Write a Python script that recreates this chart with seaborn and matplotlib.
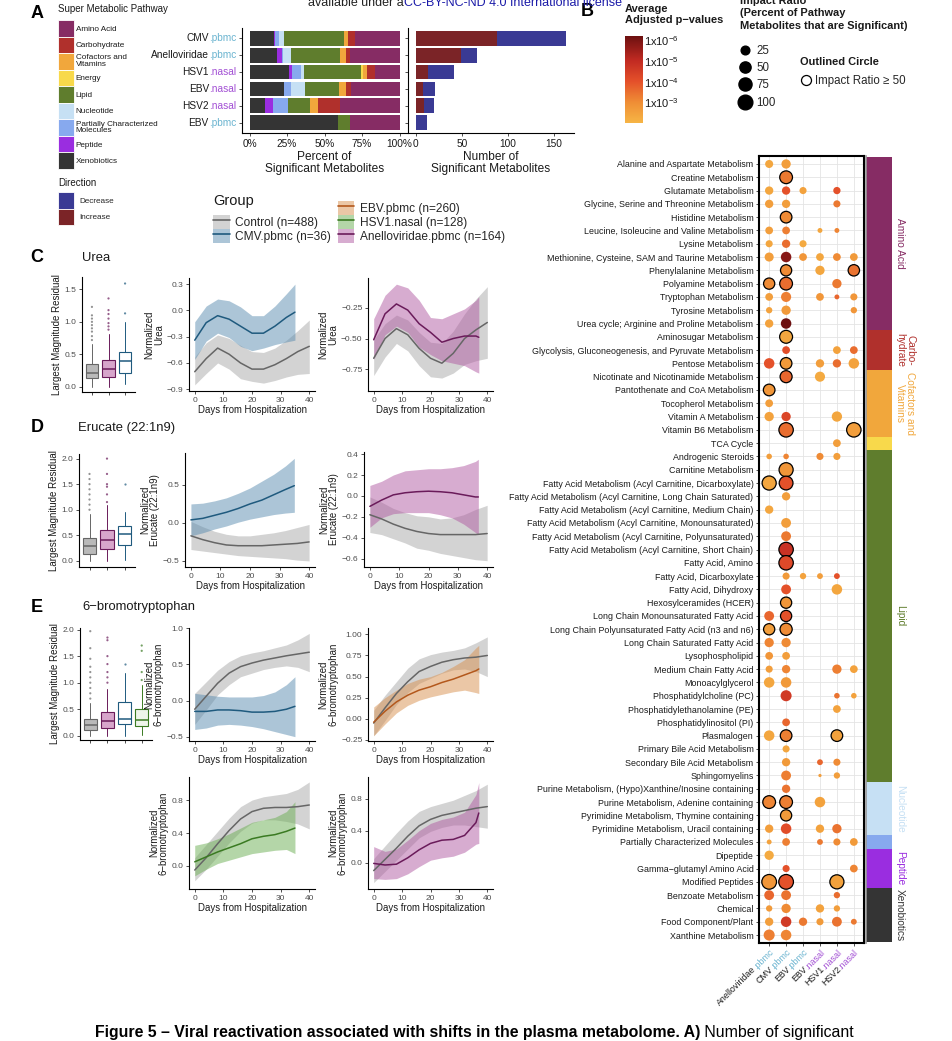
import numpy as np
import pandas as pd
import seaborn as sns
import matplotlib
matplotlib.use("Agg")
import matplotlib.pyplot as plt
import matplotlib.transforms as mtransforms
from matplotlib.colors import LinearSegmentedColormap, Normalize
from matplotlib.cm import ScalarMappable
from matplotlib.patches import Patch
from matplotlib.lines import Line2D

sns.set_style("white")
plt.rcParams["font.family"] = ["Liberation Sans", "DejaVu Sans"]
plt.rcParams["mathtext.fontset"] = "custom"
plt.rcParams["mathtext.rm"] = "Liberation Sans"
plt.rcParams["mathtext.bf"] = "Liberation Sans:bold"

# ---------------- data: panel A ----------------
row_virus = ["CMV", "Anelloviridae", "HSV1", "EBV", "HSV2", "EBV"]
row_tissue = ["pbmc", "pbmc", "nasal", "nasal", "nasal", "pbmc"]

pct_xenobiotics = [16.0, 18.2, 26.5, 22.9, 10.1, 58.7]
pct_peptide = [1.2, 3.4, 2.0, 0.0, 5.4, 0.0]
pct_partial = [2.5, 1.0, 5.9, 4.6, 10.1, 0.0]
pct_nucleotide = [3.2, 5.2, 1.7, 9.4, 0.0, 0.0]
pct_lipid = [40.0, 32.2, 37.9, 22.8, 14.4, 8.1]
pct_energy = [0.0, 0.0, 1.7, 0.0, 0.0, 0.0]
pct_cofactors = [2.5, 4.1, 2.7, 4.4, 5.5, 0.0]
pct_carbohydrate = [4.9, 3.2, 5.1, 3.7, 14.5, 0.0]
pct_amino = [29.7, 32.7, 16.5, 32.2, 40.0, 33.2]

n_increase = [88, 49, 13, 8, 9, 1]
n_decrease = [75, 18, 29, 13, 11, 11]

super_labels = ["Amino Acid", "Carbohydrate", "Cofactors and\nVitamins", "Energy", "Lipid",
                "Nucleotide", "Partially Characterized\nMolecules", "Peptide", "Xenobiotics"]
super_colors = ["#862c64", "#b0302c", "#f1a73c", "#f8d94b", "#5f7d2d",
                "#c6e0f4", "#87a9ee", "#9a2de0", "#343434"]
super_counts = [13, 3, 5, 1, 25, 4, 1, 3, 4]
side_labels = ["Amino Acid", "Carbo-\nhydrate", "Cofactors and\nVitamins", "", "Lipid",
               "Nucleotide", "", "Peptide", "Xenobiotics"]

# ---------------- data: panel B ----------------
pathways = [
    "Alanine and Aspartate Metabolism", "Creatine Metabolism", "Glutamate Metabolism",
    "Glycine, Serine and Threonine Metabolism", "Histidine Metabolism",
    "Leucine, Isoleucine and Valine Metabolism", "Lysine Metabolism",
    "Methionine, Cysteine, SAM and Taurine Metabolism", "Phenylalanine Metabolism",
    "Polyamine Metabolism", "Tryptophan Metabolism", "Tyrosine Metabolism",
    "Urea cycle; Arginine and Proline Metabolism", "Aminosugar Metabolism",
    "Glycolysis, Gluconeogenesis, and Pyruvate Metabolism", "Pentose Metabolism",
    "Nicotinate and Nicotinamide Metabolism", "Pantothenate and CoA Metabolism",
    "Tocopherol Metabolism", "Vitamin A Metabolism", "Vitamin B6 Metabolism", "TCA Cycle",
    "Androgenic Steroids", "Carnitine Metabolism",
    "Fatty Acid Metabolism (Acyl Carnitine, Dicarboxylate)",
    "Fatty Acid Metabolism (Acyl Carnitine, Long Chain Saturated)",
    "Fatty Acid Metabolism (Acyl Carnitine, Medium Chain)",
    "Fatty Acid Metabolism (Acyl Carnitine, Monounsaturated)",
    "Fatty Acid Metabolism (Acyl Carnitine, Polyunsaturated)",
    "Fatty Acid Metabolism (Acyl Carnitine, Short Chain)",
    "Fatty Acid, Amino", "Fatty Acid, Dicarboxylate", "Fatty Acid, Dihydroxy",
    "Hexosylceramides (HCER)", "Long Chain Monounsaturated Fatty Acid",
    "Long Chain Polyunsaturated Fatty Acid (n3 and n6)", "Long Chain Saturated Fatty Acid",
    "Lysophospholipid", "Medium Chain Fatty Acid", "Monoacylglycerol",
    "Phosphatidylcholine (PC)", "Phosphatidylethanolamine (PE)", "Phosphatidylinositol (PI)",
    "Plasmalogen", "Primary Bile Acid Metabolism", "Secondary Bile Acid Metabolism",
    "Sphingomyelins", "Purine Metabolism, (Hypo)Xanthine/Inosine containing",
    "Purine Metabolism, Adenine containing", "Pyrimidine Metabolism, Thymine containing",
    "Pyrimidine Metabolism, Uracil containing", "Partially Characterized Molecules",
    "Dipeptide", "Gamma\u2212glutamyl Amino Acid", "Modified Peptides", "Benzoate Metabolism",
    "Chemical", "Food Component/Plant", "Xanthine Metabolism"]

dot_virus = ["Anelloviridae", "CMV", "EBV", "EBV", "HSV1", "HSV2"]
dot_tissue = ["pbmc", "pbmc", "pbmc", "nasal", "nasal", "nasal"]

# row index, impact ratio (%), -log10 average adjusted p
anello_rows = [0, 2, 3, 5, 6, 7, 9, 10, 11, 12, 15, 17, 18, 19, 22, 24, 26, 34, 35, 36, 37, 38, 39,
               43, 48, 50, 51, 52, 54, 55, 56, 57, 58]
anello_impact = [20, 22, 22, 18, 14, 28, 50, 18, 10, 22, 42, 55, 18, 30, 7, 90, 22, 35, 50, 30, 18,
                 14, 42, 42, 70, 22, 5, 30, 100, 35, 10, 22, 48]
anello_logp = [2.4, 2.4, 2.6, 2.6, 2.4, 2.6, 3.05, 2.6, 2.5, 2.5, 4.0, 2.8, 2.6, 2.5, 2.6, 2.4, 2.4,
               3.65, 2.6, 3.15, 2.8, 2.6, 2.4, 2.4, 3.15, 2.6, 2.5, 2.3, 2.8, 3.65, 2.7, 2.6, 3.25]

cmv_rows = [0, 1, 2, 3, 4, 5, 6, 7, 8, 9, 10, 11, 12, 13, 14, 15, 16, 19, 20, 22, 23, 24, 25, 27,
            28, 29, 30, 31, 32, 33, 34, 35, 36, 37, 38, 39, 40, 42, 43, 44, 45, 46, 47, 48, 49, 50,
            51, 53, 54, 55, 56, 57, 58]
cmv_impact = [30, 70, 22, 22, 55, 18, 22, 42, 50, 70, 38, 30, 42, 72, 18, 55, 60, 30, 95, 7, 90, 85,
              22, 35, 35, 95, 95, 14, 35, 50, 50, 62, 30, 18, 22, 42, 48, 18, 55, 14, 22, 35, 22, 70,
              50, 42, 18, 14, 100, 35, 30, 42, 42]
cmv_logp = [2.6, 3.35, 4.0, 2.6, 3.05, 3.25, 3.55, 5.8, 3.05, 3.55, 3.25, 2.7, 6.2, 2.4, 4.1, 2.7,
            3.65, 4.3, 3.55, 3.15, 2.8, 4.0, 2.6, 2.6, 3.35, 4.8, 4.2, 2.7, 4.0, 2.8, 4.0, 3.05, 3.05,
            2.6, 3.15, 2.7, 4.6, 3.65, 3.25, 2.4, 2.7, 3.25, 3.45, 3.25, 2.7, 4.1, 3.25, 4.0, 4.0,
            3.45, 3.05, 4.6, 3.15]

ebvp_rows = [2, 6, 7, 31, 57]
ebvp_impact = [14, 14, 18, 10, 22]
ebvp_logp = [2.5, 2.3, 2.8, 2.5, 3.35]

ebvn_rows = [5, 7, 8, 10, 15, 16, 22, 31, 45, 46, 48, 50, 51, 56, 57]
ebvn_impact = [5, 18, 30, 18, 22, 38, 14, 8, 8, 3, 42, 22, 8, 22, 14]
ebvn_logp = [2.4, 2.4, 2.4, 2.8, 2.6, 2.3, 3.05, 2.6, 3.65, 2.6, 2.5, 2.5, 3.35, 2.5, 2.7]

hsv1_rows = [2, 3, 5, 7, 9, 10, 14, 15, 19, 21, 22, 31, 32, 38, 40, 41, 43, 45, 46, 50, 51, 54, 55,
             56, 57]
hsv1_impact = [15, 14, 5, 18, 30, 5, 18, 22, 40, 18, 14, 8, 42, 30, 7, 18, 55, 14, 10, 30, 14, 90,
               10, 10, 35]
hsv1_logp = [4.0, 3.35, 3.15, 3.05, 3.35, 3.65, 2.5, 3.55, 2.4, 2.6, 2.6, 4.0, 2.4, 3.25, 3.45, 2.5,
             2.5, 3.05, 2.6, 3.45, 3.05, 2.5, 3.55, 2.6, 3.45]

hsv2_rows = [7, 8, 10, 11, 14, 15, 20, 38, 40, 51, 53, 57]
hsv2_impact = [18, 52, 14, 10, 18, 42, 95, 18, 7, 18, 18, 8]
hsv2_logp = [2.7, 3.45, 2.8, 2.8, 3.55, 2.5, 2.6, 2.5, 2.5, 2.7, 3.15, 3.35]

size_breaks = [25, 50, 75, 100]
p_breaks = [3, 4, 5, 6]

# ---------------- data: panels C-E ----------------
days40 = [0, 4, 8, 12, 16, 20, 24, 28, 32, 36, 40]
days35 = [0, 4, 8, 12, 16, 20, 24, 28, 32, 35]
days37 = [0, 4, 8, 12, 16, 20, 24, 28, 32, 36, 37]

box_groups_3 = ["Control", "Anelloviridae.pbmc", "CMV.pbmc"]
box_groups_4 = ["Control", "Anelloviridae.pbmc", "CMV.pbmc", "HSV1.nasal"]

# Urea
urea_q1 = [0.14, 0.15, 0.22]
urea_med = [0.22, 0.27, 0.40]
urea_q3 = [0.35, 0.42, 0.54]
urea_wlo = [0.0, 0.0, 0.05]
urea_whi = [0.66, 0.82, 1.00]
urea_out_ctrl = [0.72, 0.78, 0.85, 0.9, 0.95, 1.0, 1.05, 1.1, 1.23]
urea_out_anello = [0.88, 0.93, 0.98, 1.05, 1.12, 1.18, 1.36]
urea_out_cmv = [1.13, 1.59]

urea_ctrl1 = [-0.70, -0.55, -0.43, -0.50, -0.60, -0.67, -0.67, -0.62, -0.55, -0.47, -0.41]
urea_ctrl1_lo = [-0.85, -0.72, -0.60, -0.67, -0.78, -0.81, -0.83, -0.80, -0.76, -0.73, -0.72]
urea_ctrl1_hi = [-0.53, -0.37, -0.28, -0.32, -0.40, -0.47, -0.48, -0.43, -0.34, -0.23, -0.11]
urea_cmv = [-0.34, -0.14, -0.06, -0.10, -0.18, -0.26, -0.26, -0.18, -0.08, -0.02]
urea_cmv_lo = [-0.56, -0.35, -0.26, -0.31, -0.41, -0.46, -0.43, -0.39, -0.36, -0.34]
urea_cmv_hi = [-0.13, 0.05, 0.13, 0.11, 0.04, -0.06, -0.06, 0.05, 0.19, 0.30]
urea_ctrl2 = [-0.66, -0.50, -0.42, -0.47, -0.58, -0.66, -0.70, -0.62, -0.50, -0.43, -0.37]
urea_ctrl2_lo = [-0.80, -0.65, -0.54, -0.60, -0.72, -0.81, -0.82, -0.78, -0.71, -0.68, -0.66]
urea_ctrl2_hi = [-0.51, -0.38, -0.31, -0.35, -0.45, -0.53, -0.54, -0.44, -0.30, -0.18, -0.08]
urea_anello = [-0.51, -0.30, -0.22, -0.27, -0.38, -0.45, -0.53, -0.50, -0.48, -0.48, -0.49]
urea_anello_lo = [-0.67, -0.47, -0.40, -0.45, -0.57, -0.63, -0.68, -0.70, -0.72, -0.77, -0.78]
urea_anello_hi = [-0.34, -0.15, -0.06, -0.09, -0.19, -0.33, -0.34, -0.30, -0.26, -0.19, -0.16]

# Erucate
eru_q1 = [0.14, 0.24, 0.32]
eru_med = [0.29, 0.41, 0.52]
eru_q3 = [0.45, 0.61, 0.68]
eru_wlo = [0.0, 0.0, 0.02]
eru_whi = [0.92, 1.10, 0.95]
eru_out_ctrl = [1.0, 1.1, 1.2, 1.3, 1.4, 1.5, 1.6, 1.7]
eru_out_anello = [1.15, 1.3, 1.45, 1.5, 1.7, 2.0]
eru_out_cmv = [1.5]

eru_ctrl1 = [-0.17, -0.22, -0.26, -0.29, -0.30, -0.30, -0.30, -0.29, -0.28, -0.27, -0.25]
eru_ctrl1_lo = [-0.35, -0.37, -0.39, -0.41, -0.43, -0.44, -0.45, -0.46, -0.47, -0.49, -0.50]
eru_ctrl1_hi = [0.02, -0.05, -0.11, -0.15, -0.17, -0.17, -0.15, -0.13, -0.10, -0.06, -0.02]
eru_cmv = [0.04, 0.06, 0.10, 0.14, 0.19, 0.25, 0.30, 0.37, 0.44, 0.49]
eru_cmv_lo = [-0.17, -0.13, -0.08, -0.04, 0.01, 0.05, 0.08, 0.11, 0.13, 0.14]
eru_cmv_hi = [0.25, 0.26, 0.29, 0.33, 0.39, 0.46, 0.55, 0.64, 0.75, 0.85]
eru_ctrl2 = [-0.18, -0.22, -0.27, -0.31, -0.34, -0.36, -0.37, -0.37, -0.37, -0.37, -0.36]
eru_ctrl2_lo = [-0.35, -0.37, -0.41, -0.45, -0.50, -0.52, -0.55, -0.57, -0.59, -0.61, -0.62]
eru_ctrl2_hi = [-0.01, -0.06, -0.12, -0.16, -0.19, -0.20, -0.22, -0.21, -0.18, -0.13, -0.09]
eru_anello = [-0.10, -0.04, 0.01, 0.03, 0.04, 0.045, 0.04, 0.03, 0.01, -0.01, -0.01]
eru_anello_lo = [-0.30, -0.21, -0.17, -0.16, -0.16, -0.16, -0.18, -0.21, -0.27, -0.35, -0.37]
eru_anello_hi = [0.10, 0.14, 0.20, 0.24, 0.25, 0.26, 0.26, 0.27, 0.29, 0.33, 0.35]

# 6-bromotryptophan
bro_q1 = [0.11, 0.15, 0.23, 0.19]
bro_med = [0.21, 0.28, 0.31, 0.29]
bro_q3 = [0.31, 0.45, 0.63, 0.51]
bro_wlo = [0.0, 0.0, 0.0, 0.02]
bro_whi = [0.61, 0.89, 1.19, 0.96]
bro_out_ctrl = [0.7, 0.8, 0.9, 1.0, 1.1, 1.2, 1.3, 1.45, 1.65, 1.97]
bro_out_anello = [1.0, 1.1, 1.2, 1.35, 1.5, 1.8, 1.85]
bro_out_cmv = [1.35]
bro_out_hsv1 = [1.05, 1.2, 1.6, 1.7]

bro_ctrl1 = [-0.12, 0.06, 0.24, 0.38, 0.47, 0.52, 0.56, 0.59, 0.62, 0.645, 0.67]
bro_ctrl1_lo = [-0.33, -0.13, 0.08, 0.22, 0.33, 0.38, 0.43, 0.46, 0.48, 0.46, 0.40]
bro_ctrl1_hi = [0.10, 0.26, 0.42, 0.54, 0.62, 0.66, 0.69, 0.73, 0.77, 0.84, 0.93]
bro_cmv = [-0.15, -0.15, -0.13, -0.13, -0.14, -0.16, -0.16, -0.15, -0.12, -0.08]
bro_cmv_lo = [-0.40, -0.38, -0.34, -0.33, -0.34, -0.36, -0.39, -0.43, -0.47, -0.50]
bro_cmv_hi = [0.10, 0.08, 0.06, 0.05, 0.05, 0.05, 0.07, 0.12, 0.22, 0.33]
bro_ctrl2 = [-0.05, 0.13, 0.30, 0.44, 0.56, 0.62, 0.67, 0.70, 0.72, 0.73, 0.75]
bro_ctrl2_lo = [-0.20, -0.02, 0.17, 0.31, 0.42, 0.48, 0.54, 0.58, 0.59, 0.56, 0.50]
bro_ctrl2_hi = [0.10, 0.28, 0.44, 0.60, 0.71, 0.76, 0.79, 0.81, 0.84, 0.90, 0.97]
bro_ebv = [-0.04, 0.09, 0.20, 0.28, 0.34, 0.38, 0.43, 0.47, 0.52, 0.57, 0.59]
bro_ebv_lo = [-0.20, -0.06, 0.07, 0.16, 0.22, 0.26, 0.29, 0.32, 0.34, 0.31, 0.30]
bro_ebv_hi = [0.14, 0.25, 0.34, 0.42, 0.47, 0.50, 0.55, 0.62, 0.70, 0.84, 0.87]
bro_ctrl3 = [-0.05, 0.10, 0.27, 0.43, 0.57, 0.66, 0.70, 0.71, 0.71, 0.72, 0.74]
bro_ctrl3_lo = [-0.18, -0.04, 0.12, 0.28, 0.42, 0.52, 0.56, 0.56, 0.54, 0.51, 0.45]
bro_ctrl3_hi = [0.10, 0.26, 0.42, 0.58, 0.72, 0.80, 0.84, 0.86, 0.88, 0.93, 1.02]
bro_hsv1 = [0.05, 0.11, 0.17, 0.22, 0.27, 0.33, 0.36, 0.38, 0.42, 0.46]
bro_hsv1_lo = [-0.12, -0.04, 0.03, 0.07, 0.11, 0.15, 0.17, 0.19, 0.20, 0.15]
bro_hsv1_hi = [0.25, 0.28, 0.33, 0.39, 0.46, 0.53, 0.56, 0.59, 0.66, 0.78]
bro_ctrl4 = [-0.10, 0.04, 0.18, 0.33, 0.46, 0.54, 0.59, 0.62, 0.65, 0.68, 0.70]
bro_ctrl4_lo = [-0.25, -0.11, 0.03, 0.17, 0.31, 0.39, 0.44, 0.47, 0.47, 0.45, 0.43]
bro_ctrl4_hi = [0.05, 0.21, 0.37, 0.52, 0.64, 0.70, 0.74, 0.78, 0.84, 0.90, 0.98]
bro_anello = [-0.01, -0.03, -0.02, 0.06, 0.16, 0.24, 0.28, 0.29, 0.34, 0.50, 0.62]
bro_anello_lo = [-0.20, -0.21, -0.20, -0.14, -0.05, 0.03, 0.06, 0.08, 0.13, 0.23, 0.24]
bro_anello_hi = [0.20, 0.14, 0.17, 0.28, 0.40, 0.49, 0.54, 0.57, 0.63, 0.85, 1.00]

group_labels = ["Control (n=488)", "CMV.pbmc (n=36)", "EBV.pbmc (n=260)",
                "HSV1.nasal (n=128)", "Anelloviridae.pbmc (n=164)"]

# ---------------- styles ----------------
line_col = {"Control": "#666666", "CMV.pbmc": "#1f5a7e", "Anelloviridae.pbmc": "#6a1b5a",
            "EBV.pbmc": "#b3581c", "HSV1.nasal": "#3a7a22"}
fill_col = {"Control": "#a8a8a8", "CMV.pbmc": "#5b8db0", "Anelloviridae.pbmc": "#b15aa2",
            "EBV.pbmc": "#d8904e", "HSV1.nasal": "#6bae52"}
box_face = {"Control": "#b9b9b9", "Anelloviridae.pbmc": "#d7a5cb", "CMV.pbmc": "#ffffff",
            "HSV1.nasal": "#eef5ea"}
tissue_col = {"pbmc": "#6bb4d0", "nasal": "#a24fd4"}
dark = "#1a1a1a"
tick_grey = "#4d4d4d"

W, H = 952, 1041
fig = plt.figure(figsize=(W / 100, H / 100), dpi=100)
renderer = fig.canvas.get_renderer()


def add_ax(l, t, r, b):
    return fig.add_axes([l / W, 1 - b / H, (r - l) / W, (b - t) / H])


def fx(px):
    return px / W


def fy(py):
    return 1 - py / H


def text_run(x_px, y_px, parts, size, va="center"):
    shift = 0
    for txt, col, weight in parts:
        tr = mtransforms.offset_copy(fig.transFigure, fig=fig, x=shift, y=0, units="dots")
        t = fig.text(fx(x_px), fy(y_px), txt, color=col, fontsize=size, fontweight=weight,
                     ha="left", va=va, transform=tr)
        shift += t.get_window_extent(renderer).width


def tone_ylabel(ax, y, parts, size, pad):
    shift = pad
    for txt, col in reversed(parts):
        tr = mtransforms.offset_copy(ax.get_yaxis_transform(), fig=fig, x=-shift, y=0, units="dots")
        t = ax.text(0, y, txt, color=col, fontsize=size, ha="right", va="center", transform=tr)
        shift += t.get_window_extent(renderer).width


def tone_xlabel_rot(ax, x, parts, size, dx, dy):
    c = s = np.sqrt(0.5)
    shift = 0
    for txt, col in reversed(parts):
        tr = mtransforms.offset_copy(ax.get_xaxis_transform(), fig=fig,
                                     x=dx - shift * c, y=dy - shift * s, units="dots")
        t = ax.text(x, 0, txt, color=col, fontsize=size, ha="right", va="center",
                    rotation_mode="anchor", transform=tr)
        w = t.get_window_extent(renderer).width
        t.set_rotation(45)
        shift += w


def classic(ax):
    sns.despine(ax=ax)
    for side in ("left", "bottom"):
        ax.spines[side].set_color("black")
        ax.spines[side].set_linewidth(0.8)
    ax.tick_params(axis="both", length=2.5, width=0.6, color="#333333", labelsize=6,
                   labelcolor=tick_grey, pad=1.5, left=True, bottom=True)


# ================= Panel A =================
row_keys = [f"{v}.{t}" for v, t in zip(row_virus, row_tissue)]
stack = [pct_xenobiotics, pct_peptide, pct_partial, pct_nucleotide, pct_lipid, pct_energy,
         pct_cofactors, pct_carbohydrate, pct_amino]
stack_colors = super_colors[::-1]
cum = np.cumsum(np.array(stack), axis=0)

ax_pct = add_ax(242, 28, 407, 133)
for vals, col in reversed(list(zip(cum, stack_colors))):
    sns.barplot(x=vals, y=row_keys, order=row_keys, orient="h", color=col, saturation=1,
                width=0.88, linewidth=0, errorbar=None, ax=ax_pct)
ax_pct.set_xlim(-5, 105)
ax_pct.set_ylim(5.6, -0.6)
ax_pct.set_xticks([0, 25, 50, 75, 100])
ax_pct.set_xticklabels(["0%", "25%", "50%", "75%", "100%"])
ax_pct.set_yticks(range(6))
ax_pct.set_yticklabels([])
classic(ax_pct)
ax_pct.tick_params(labelsize=7.3, labelcolor=dark)
ax_pct.set_xlabel("Percent of\nSignificant Metabolites", fontsize=8.6, color=dark, labelpad=2,
                  linespacing=1.0)
ax_pct.set_ylabel("")
for i, (v, t) in enumerate(zip(row_virus, row_tissue)):
    tone_ylabel(ax_pct, i, [(v, dark), ("." + t, tissue_col[t])], 7.3, 6)

ax_num = add_ax(408, 28, 574, 133)
n_total = [a + b for a, b in zip(n_increase, n_decrease)]
sns.barplot(x=n_total, y=row_keys, order=row_keys, orient="h", color="#3a3a94", saturation=1,
            width=0.88, linewidth=0, errorbar=None, ax=ax_num)
sns.barplot(x=n_increase, y=row_keys, order=row_keys, orient="h", color="#7b2427", saturation=1,
            width=0.88, linewidth=0, errorbar=None, ax=ax_num)
ax_num.set_xlim(-8.2, 171.6)
ax_num.set_ylim(5.6, -0.6)
ax_num.set_xticks([0, 50, 100, 150])
ax_num.set_yticks(range(6))
ax_num.set_yticklabels([])
classic(ax_num)
ax_num.tick_params(labelsize=7.3, labelcolor=dark)
ax_num.set_xlabel("Number of\nSignificant Metabolites", fontsize=8.6, color=dark, labelpad=2,
                  linespacing=1.0)
ax_num.set_ylabel("")

# legends of panel A
fig.text(fx(58), fy(9.5), "Super Metabolic Pathway", fontsize=7, color=dark, va="center")
leg = fig.legend([Patch(facecolor=c, edgecolor="white", linewidth=0.6) for c in super_colors],
                 super_labels, loc="upper left", bbox_to_anchor=(fx(58), fy(20)), frameon=False,
                 fontsize=5.9, handlelength=1.95, handleheight=2.73, handletextpad=0.2,
                 labelspacing=0, borderpad=0, borderaxespad=0)
for t in leg.get_texts():
    t.set_linespacing(0.95)
    t.set_color(dark)

fig.text(fx(58), fy(183), "Direction", fontsize=7, color=dark, va="center")
leg = fig.legend([Patch(facecolor="#3a3a94", edgecolor="white", linewidth=0.6),
                  Patch(facecolor="#7b2427", edgecolor="white", linewidth=0.6)],
                 ["Decrease", "Increase"], loc="upper left", bbox_to_anchor=(fx(58), fy(192)),
                 frameon=False, fontsize=5.9, handlelength=1.95, handleheight=2.73,
                 handletextpad=0.65, labelspacing=0, borderpad=0, borderaxespad=0)

# Group legend
grp_keys = ["Control", "CMV.pbmc", "EBV.pbmc", "HSV1.nasal", "Anelloviridae.pbmc"]
handles = [(Patch(facecolor=fill_col[k], alpha=0.5, edgecolor="none"),
            Line2D([], [], color=line_col[k], lw=1.2)) for k in grp_keys]
blank = Line2D([], [], alpha=0)
fig.text(fx(213), fy(201.5), "Group", fontsize=10.5, color=dark, va="center")
fig.legend([blank] + handles, [""] + group_labels, ncol=2, loc="upper left",
           bbox_to_anchor=(fx(213), fy(200.5)), frameon=False, fontsize=8.6, handlelength=1.4,
           handleheight=1.45, handletextpad=0.45, labelspacing=0.0, columnspacing=0.55,
           borderpad=0, borderaxespad=0)

# ================= Panel B =================
recs = []
for gi, (rows, imps, lps) in enumerate([(anello_rows, anello_impact, anello_logp),
                                        (cmv_rows, cmv_impact, cmv_logp),
                                        (ebvp_rows, ebvp_impact, ebvp_logp),
                                        (ebvn_rows, ebvn_impact, ebvn_logp),
                                        (hsv1_rows, hsv1_impact, hsv1_logp),
                                        (hsv2_rows, hsv2_impact, hsv2_logp)]):
    for r, v, p in zip(rows, imps, lps):
        recs.append((gi, r, v, p))
dots = pd.DataFrame(recs, columns=["grp", "row", "impact", "logp"])

p_cmap = LinearSegmentedColormap.from_list(
    "padj", [(0.0, "#f6b545"), (0.24, "#ef8d35"), (0.48, "#e4502a"), (0.72, "#c12a22"),
             (1.0, "#6c1010")])
p_norm = Normalize(2.02, 6.19)


def dot_diam_px(v):
    return 3.25 + 11.45 * np.sqrt(max(v - 3, 0) / 97)


size_map = {v: (dot_diam_px(v) * 0.72) ** 2 for v in sorted(set(dots["impact"]) | set(size_breaks))}

ax_dot = add_ax(759, 156, 864, 943)
ax_dot.set_axisbelow(True)
for outlined in (False, True):
    sub = dots[(dots["impact"] >= 50) == outlined]
    sns.scatterplot(data=sub, x="grp", y="row", hue="logp", size="impact", palette=p_cmap,
                    hue_norm=p_norm, sizes=size_map, legend=False,
                    edgecolor="black" if outlined else "none",
                    linewidth=0.9 if outlined else 0, ax=ax_dot, zorder=3)
ax_dot.set_xlim(-0.6, 5.6)
ax_dot.set_ylim(58.6, -0.6)
ax_dot.set_xticks(range(6))
ax_dot.set_yticks(range(len(pathways)))
ax_dot.set_yticklabels(pathways, fontsize=6.4, color=dark)
ax_dot.set_xticklabels([])
ax_dot.grid(True, color="#e4e4e4", lw=0.6)
ax_dot.set_xlabel("")
ax_dot.set_ylabel("")
for sp in ax_dot.spines.values():
    sp.set_visible(True)
    sp.set_color("black")
    sp.set_linewidth(1.5)
ax_dot.tick_params(axis="both", length=2.5, width=0.6, color="#333333", pad=1.5, left=True,
                   bottom=True)
for i, (v, t) in enumerate(zip(dot_virus, dot_tissue)):
    tone_xlabel_rot(ax_dot, i, [(v, dark), ("." + t, tissue_col[t])], 6.4, 3, -8)

ax_side = add_ax(866, 156, 892, 943)
start = 0
for cnt, col, lab in zip(super_counts, super_colors, side_labels):
    ax_side.bar(0.5, cnt, bottom=start - 0.5, width=1.0, color=col, linewidth=0)
    if lab:
        ax_side.text(1.12, start - 0.5 + cnt / 2, lab, color=col, fontsize=7.3, rotation=-90,
                     ha="left", va="center", multialignment="center", linespacing=1.0,
                     transform=ax_side.get_yaxis_transform())
    start += cnt
ax_side.set_xlim(0, 1)
ax_side.set_ylim(58.6, -0.6)
ax_side.set_xticks([])
ax_side.set_yticks([])
for side, sp in ax_side.spines.items():
    sp.set_visible(side in ("left",))
    sp.set_color("#9a9a9a")
    sp.set_linewidth(1.2)

# legends of panel B
fig.text(fx(625), fy(4), "Average\nAdjusted p\u2212values", fontsize=7.9, fontweight="bold",
         color=dark, va="top", ha="left", linespacing=1.15)
cax = add_ax(625, 36, 643, 123)
cb = fig.colorbar(ScalarMappable(norm=p_norm, cmap=p_cmap), cax=cax)
cb.outline.set_visible(False)
cb.set_ticks(p_breaks)
cb.set_ticklabels([f"1x10$^{{-{b}}}$" for b in p_breaks])
cax.yaxis.set_ticks_position("both")
cax.tick_params(direction="in", length=3, width=0.8, color="white", labelsize=8,
                labelcolor=dark, labelleft=False, labelright=True, pad=1)

fig.text(fx(740), fy(-4), "Impact Ratio\n(Percent of Pathway\nMetabolites that are Significant)",
         fontsize=7.9, fontweight="bold", color=dark, va="top", ha="left", linespacing=1.3)
size_handles = [Line2D([0], [0], marker="o", ls="none", markerfacecolor="black",
                       markeredgecolor="black", markersize=dot_diam_px(v) * 0.72)
                for v in size_breaks]
fig.legend(size_handles, [str(v) for v in size_breaks], loc="upper left",
           bbox_to_anchor=(fx(738), fy(45)), frameon=False, fontsize=8.3, handlelength=1.3,
           handletextpad=0.3, labelspacing=0.45, borderpad=0, borderaxespad=0)
fig.text(fx(800), fy(62), "Outlined Circle", fontsize=7.9, fontweight="bold", color=dark,
         va="center")
fig.legend([Line2D([0], [0], marker="o", ls="none", markerfacecolor="white",
                   markeredgecolor="black", markeredgewidth=0.9, markersize=7.2)],
           ["Impact Ratio \u2265 50"], loc="upper left", bbox_to_anchor=(fx(801), fy(75)),
           frameon=False, fontsize=8.3, handlelength=0.9, handletextpad=0.3, borderpad=0,
           borderaxespad=0)


# ================= Panels C-E =================
def box_panel(ax, groups, q1, med, q3, wlo, whi, outliers, ylim, yticks, ylabels):
    stats = [dict(q1=a, med=m, q3=b, whislo=lo, whishi=hi, fliers=[])
             for a, m, b, lo, hi in zip(q1, med, q3, wlo, whi)]
    bx = ax.bxp(stats, positions=list(range(len(groups))), widths=0.75, patch_artist=True,
                showfliers=False, showcaps=False, manage_ticks=False)
    for i, g in enumerate(groups):
        col = line_col[g]
        bx["boxes"][i].set(facecolor=box_face[g], edgecolor=col, linewidth=0.8)
        bx["medians"][i].set(color=col, linewidth=1.1)
        for w in bx["whiskers"][2 * i:2 * i + 2]:
            w.set(color=col, linewidth=0.7)
    og = [g for g, vals in zip(groups, outliers) for _ in vals]
    ov = [v for vals in outliers for v in vals]
    sns.stripplot(x=og, y=ov, order=groups, hue=og, hue_order=groups,
                  palette={g: line_col[g] for g in groups}, jitter=False, size=1.6, alpha=0.7,
                  legend=False, ax=ax, zorder=4)
    ax.set_xlim(-0.6, len(groups) - 0.4)
    ax.set_ylim(*ylim)
    ax.set_yticks(yticks)
    ax.set_yticklabels(ylabels)
    ax.set_xticks(range(len(groups)))
    ax.set_xticklabels([])
    classic(ax)
    ax.set_ylabel("Largest Magnitude Residual", fontsize=7, color=dark, labelpad=2)


def line_panel(ax, ctrl, grp, gname, ylim, yticks, ylabels, ylabel):
    for (days, fit, lo, hi), name in ((ctrl, "Control"), (grp, gname)):
        ax.fill_between(days, lo, hi, color=fill_col[name], alpha=0.5, linewidth=0)
        sns.lineplot(x=days, y=fit, color=line_col[name], linewidth=1.1, ax=ax)
    ax.set_xlim(-2, 42)
    ax.set_ylim(*ylim)
    ax.set_xticks([0, 10, 20, 30, 40])
    ax.set_yticks(yticks)
    ax.set_yticklabels(ylabels)
    classic(ax)
    ax.set_xlabel("Days from Hospitalization", fontsize=6.9, color=dark, labelpad=1)
    ax.set_ylabel(ylabel, fontsize=6.9, color=dark, labelpad=2, linespacing=1.0)


M = "\u2212"

# C: Urea
ax = add_ax(82, 277, 135, 392)
box_panel(ax, box_groups_3, urea_q1, urea_med, urea_q3, urea_wlo, urea_whi,
          [urea_out_ctrl, urea_out_anello, urea_out_cmv], (-0.08, 1.69),
          [0, 0.5, 1.0, 1.5], ["0.0", "0.5", "1.0", "1.5"])
ax = add_ax(189, 278, 315, 391)
line_panel(ax, (days40, urea_ctrl1, urea_ctrl1_lo, urea_ctrl1_hi),
           (days35, urea_cmv, urea_cmv_lo, urea_cmv_hi), "CMV.pbmc", (-0.92, 0.37),
           [-0.9, -0.6, -0.3, 0.0, 0.3], [M + "0.9", M + "0.6", M + "0.3", "0.0", "0.3"],
           "Normalized\nUrea")
ax = add_ax(368, 278, 493, 391)
line_panel(ax, (days40, urea_ctrl2, urea_ctrl2_lo, urea_ctrl2_hi),
           (days37, urea_anello, urea_anello_lo, urea_anello_hi), "Anelloviridae.pbmc",
           (-0.925, -0.01), [-0.75, -0.5, -0.25], [M + "0.75", M + "0.50", M + "0.25"],
           "Normalized\nUrea")

# D: Erucate
ax = add_ax(79, 454, 135, 567)
box_panel(ax, box_groups_3, eru_q1, eru_med, eru_q3, eru_wlo, eru_whi,
          [eru_out_ctrl, eru_out_anello, eru_out_cmv], (-0.12, 2.09),
          [0, 0.5, 1.0, 1.5, 2.0], ["0.0", "0.5", "1.0", "1.5", "2.0"])
ax = add_ax(185, 453, 315, 567)
line_panel(ax, (days40, eru_ctrl1, eru_ctrl1_lo, eru_ctrl1_hi),
           (days35, eru_cmv, eru_cmv_lo, eru_cmv_hi), "CMV.pbmc", (-0.58, 0.92),
           [-0.5, 0.0, 0.5], [M + "0.5", "0.0", "0.5"], "Normalized\nErucate (22:1n9)")
ax = add_ax(364, 452, 493, 567)
line_panel(ax, (days40, eru_ctrl2, eru_ctrl2_lo, eru_ctrl2_hi),
           (days37, eru_anello, eru_anello_lo, eru_anello_hi), "Anelloviridae.pbmc",
           (-0.68, 0.42), [-0.6, -0.4, -0.2, 0.0, 0.2, 0.4],
           [M + "0.6", M + "0.4", M + "0.2", "0.0", "0.2", "0.4"], "Normalized\nErucate (22:1n9)")

# E: 6-bromotryptophan
ax = add_ax(80, 628, 152, 740)
box_panel(ax, box_groups_4, bro_q1, bro_med, bro_q3, bro_wlo, bro_whi,
          [bro_out_ctrl, bro_out_anello, bro_out_cmv, bro_out_hsv1], (-0.08, 2.03),
          [0, 0.5, 1.0, 1.5, 2.0], ["0.0", "0.5", "1.0", "1.5", "2.0"])
bro_label = "Normalized\n6" + M + "bromotryptophan"
ax = add_ax(189, 628, 315, 741)
line_panel(ax, (days40, bro_ctrl1, bro_ctrl1_lo, bro_ctrl1_hi),
           (days35, bro_cmv, bro_cmv_lo, bro_cmv_hi), "CMV.pbmc", (-0.56, 1.005),
           [-0.5, 0.0, 0.5, 1.0], [M + "0.5", "0.0", "0.5", "1.0"], bro_label)
ax = add_ax(368, 628, 493, 741)
line_panel(ax, (days40, bro_ctrl2, bro_ctrl2_lo, bro_ctrl2_hi),
           (days37, bro_ebv, bro_ebv_lo, bro_ebv_hi), "EBV.pbmc", (-0.262, 1.075),
           [-0.25, 0.0, 0.25, 0.5, 0.75, 1.0],
           [M + "0.25", "0.00", "0.25", "0.50", "0.75", "1.00"], bro_label)
ax = add_ax(189, 777, 315, 889)
line_panel(ax, (days40, bro_ctrl3, bro_ctrl3_lo, bro_ctrl3_hi),
           (days35, bro_hsv1, bro_hsv1_lo, bro_hsv1_hi), "HSV1.nasal", (-0.28, 1.08),
           [0.0, 0.4, 0.8], ["0.0", "0.4", "0.8"], bro_label)
ax = add_ax(368, 777, 493, 889)
line_panel(ax, (days40, bro_ctrl4, bro_ctrl4_lo, bro_ctrl4_hi),
           (days37, bro_anello, bro_anello_lo, bro_anello_hi), "Anelloviridae.pbmc",
           (-0.33, 1.07), [0.0, 0.4, 0.8], ["0.0", "0.4", "0.8"], bro_label)

# ================= labels and text =================
for letter, x, y in (("A", 37, 13), ("B", 587, 12), ("C", 37, 258), ("D", 37, 428), ("E", 37, 607)):
    fig.text(fx(x), fy(y), letter, fontsize=13, fontweight="bold", color="black",
             ha="center", va="center")
fig.text(fx(82), fy(258), "Urea", fontsize=9.4, color=dark, va="center")
fig.text(fx(78), fy(428), "Erucate (22:1n9)", fontsize=9.4, color=dark, va="center")
fig.text(fx(82), fy(607), "6" + M + "bromotryptophan", fontsize=9.4, color=dark, va="center")

text_run(308, 5.5, [("available under a", "#222222", "normal"),
                    ("CC-BY-NC-ND 4.0 International license", "#1a1aa8", "normal")], 9,
         va="baseline")
text_run(95, 1032, [("Figure 5 \u2013 Viral reactivation associated with shifts in the plasma "
                     "metabolome. A)", "black", "bold"),
                    (" Number of significant", "black", "normal")], 11.4)

fig.savefig("out.png", dpi=100)
